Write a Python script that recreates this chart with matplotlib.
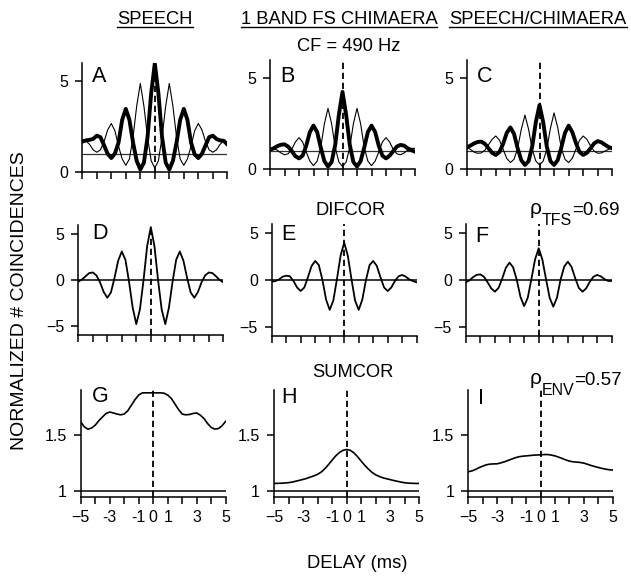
import numpy as np
import matplotlib
matplotlib.use('Agg')
import matplotlib.pyplot as plt
from matplotlib.lines import Line2D

plt.rcParams['font.family'] = ['Liberation Sans', 'DejaVu Sans']
plt.rcParams['lines.scale_dashes'] = False

# ---------------- data ----------------
delay = np.arange(-5, 5.001, 0.25)   # ms, 41 samples

# Row 1: normalized correlograms (thick = same polarity, thin = cross polarity)
speech_thick = [1.65, 1.72, 1.75, 1.80, 1.98, 1.90, 1.45, 0.98, 0.75, 1.00, 1.60,
                2.85, 3.45, 2.85, 1.60, 0.60, 0.12, 0.50, 1.90, 4.30, 5.95,
                4.30, 1.90, 0.50, 0.12, 0.60, 1.60, 2.85, 3.45, 2.85, 1.60,
                0.95, 0.75, 0.98, 1.45, 1.90, 1.98, 1.80, 1.72, 1.70, 1.50]
speech_thin = [1.75, 1.70, 1.50, 1.20, 1.07, 1.20, 1.65, 2.30, 2.65, 2.25, 1.40,
               0.70, 0.35, 0.70, 1.90, 3.60, 4.85, 3.60, 1.90, 0.60, 0.20,
               0.60, 1.90, 3.60, 4.85, 3.60, 1.90, 0.70, 0.35, 0.70, 1.40,
               2.25, 2.65, 2.30, 1.65, 1.20, 1.07, 1.20, 1.50, 1.70, 1.60]
chim_thick = [1.08, 1.15, 1.27, 1.35, 1.37, 1.25, 1.00, 0.72, 0.60, 0.75, 1.30,
              2.05, 2.40, 2.05, 1.20, 0.45, 0.15, 0.40, 1.35, 3.00, 4.25,
              3.00, 1.35, 0.40, 0.15, 0.45, 1.20, 2.05, 2.40, 2.05, 1.30,
              0.75, 0.60, 0.75, 1.00, 1.25, 1.34, 1.30, 1.15, 1.05, 0.97]
chim_thin = [1.15, 1.15, 1.05, 0.90, 0.80, 0.85, 1.10, 1.50, 1.74, 1.50, 0.95,
             0.45, 0.20, 0.45, 1.20, 2.50, 3.35, 2.50, 1.20, 0.40, 0.15,
             0.40, 1.20, 2.50, 3.35, 2.50, 1.20, 0.45, 0.20, 0.45, 0.95,
             1.50, 1.74, 1.50, 1.10, 0.85, 0.80, 0.90, 1.05, 1.15, 1.15]
cross_thick = [1.20, 1.30, 1.42, 1.50, 1.52, 1.40, 1.15, 0.90, 0.79, 0.95, 1.40,
               2.00, 2.30, 1.95, 1.15, 0.50, 0.24, 0.45, 1.25, 2.60, 3.53,
               2.60, 1.25, 0.45, 0.24, 0.50, 1.20, 2.00, 2.40, 2.05, 1.45,
               0.95, 0.79, 0.90, 1.15, 1.42, 1.55, 1.48, 1.35, 1.22, 1.15]
cross_thin = [1.20, 1.10, 0.95, 0.88, 0.90, 1.05, 1.35, 1.65, 1.83, 1.60, 1.10,
              0.60, 0.37, 0.55, 1.15, 2.20, 2.98, 2.20, 1.10, 0.45, 0.24,
              0.45, 1.10, 2.25, 3.10, 2.30, 1.15, 0.55, 0.37, 0.60, 1.10,
              1.60, 1.83, 1.65, 1.30, 1.00, 0.88, 0.90, 1.00, 1.10, 1.20]

# Row 2: DIFCOR
difcor_speech = [-0.18, 0.05, 0.40, 0.75, 0.82, 0.50, -0.25, -1.30, -1.93, -1.35, 0.25,
                 2.10, 3.10, 2.20, -0.20, -3.00, -4.80, -3.20, 0.00, 3.70, 5.75,
                 3.70, 0.00, -3.20, -4.80, -3.00, -0.20, 2.20, 3.10, 2.10, 0.25,
                 -1.35, -1.93, -1.30, -0.25, 0.50, 0.82, 0.75, 0.40, 0.00, -0.25]
difcor_chim = [-0.18, -0.12, 0.05, 0.35, 0.46, 0.40, -0.10, -0.80, -1.18, -0.80, 0.30,
               1.50, 2.04, 1.60, 0.00, -2.10, -3.20, -2.20, 0.10, 2.60, 4.00,
               2.60, 0.10, -2.20, -3.20, -2.10, 0.00, 1.60, 2.04, 1.50, 0.30,
               -0.80, -1.18, -0.80, -0.10, 0.40, 0.54, 0.35, 0.05, -0.12, -0.25]
difcor_cross = [-0.25, -0.05, 0.30, 0.55, 0.60, 0.35, -0.25, -0.90, -1.25, -0.85, 0.15,
                1.30, 1.86, 1.35, 0.00, -1.80, -2.80, -1.90, 0.10, 2.20, 3.40,
                2.20, 0.10, -1.90, -2.86, -1.90, 0.05, 1.45, 1.96, 1.40, 0.20,
                -0.85, -1.25, -0.90, -0.20, 0.35, 0.54, 0.40, 0.10, -0.10, -0.10]

# Row 3: SUMCOR
sumcor_speech = [1.620, 1.575, 1.554, 1.565, 1.590, 1.630, 1.664, 1.695, 1.708, 1.700, 1.690,
                 1.683, 1.690, 1.720, 1.770, 1.820, 1.860, 1.880, 1.880, 1.880, 1.880,
                 1.880, 1.880, 1.877, 1.860, 1.830, 1.780, 1.730, 1.690, 1.683, 1.686,
                 1.695, 1.700, 1.680, 1.650, 1.605, 1.570, 1.555, 1.560, 1.585, 1.625]
sumcor_chim = [1.068, 1.069, 1.070, 1.072, 1.075, 1.080, 1.088, 1.096, 1.104, 1.113, 1.125,
               1.136, 1.150, 1.170, 1.200, 1.237, 1.277, 1.315, 1.345, 1.365, 1.372,
               1.365, 1.342, 1.308, 1.268, 1.230, 1.196, 1.167, 1.145, 1.130, 1.118,
               1.110, 1.102, 1.094, 1.087, 1.080, 1.074, 1.071, 1.069, 1.068, 1.068]
sumcor_cross = [1.173, 1.180, 1.193, 1.210, 1.223, 1.235, 1.241, 1.243, 1.244, 1.252, 1.262,
                1.274, 1.286, 1.298, 1.307, 1.312, 1.315, 1.318, 1.321, 1.323, 1.324,
                1.327, 1.327, 1.322, 1.315, 1.304, 1.292, 1.279, 1.268, 1.262, 1.259,
                1.256, 1.250, 1.240, 1.229, 1.220, 1.211, 1.203, 1.196, 1.191, 1.188]

xticks = list(range(-5, 6))
xtick_labels = ['\u22125', '', '-3', '', '-1', '0', '1', '', '3', '', '5']
column_titles = ['SPEECH', '1 BAND FS CHIMAERA', 'SPEECH/CHIMAERA']
letters = ['A', 'B', 'C', 'D', 'E', 'F', 'G', 'H', 'I']
rho_tfs = ('TFS', '=0.69')
rho_env = ('ENV', '=0.57')

# ---------------- layout ----------------
W, H = 631, 576
fig = plt.figure(figsize=(W / 100, H / 100), dpi=100)


def add_ax(l, r, t, b):
    return fig.add_axes([l / W, 1 - b / H, (r - l) / W, (b - t) / H])


def style(ax, ylim, yticks, ylabels, show_x):
    ax.set_xlim(-5, 5)
    ax.set_ylim(*ylim)
    ax.patch.set_visible(False)
    for s in ['top', 'right']:
        ax.spines[s].set_visible(False)
    for s in ['left', 'bottom']:
        ax.spines[s].set_linewidth(1.1)
    ax.set_xticks(xticks)
    ax.set_xticklabels(xtick_labels if show_x else [''] * len(xticks))
    ax.set_yticks(yticks)
    ax.set_yticklabels(ylabels)
    ax.tick_params(direction='out', length=5, width=1.1, labelsize=11.5, pad=5)


def zero_dash(ax):
    ax.axvline(0, color='black', lw=1.3, dashes=[4.5, 2.7], zorder=5)


# Row 1
row1 = [((82.3, 227.3, 62.5, 171.7), speech_thick, speech_thin),
        ((270.0, 415.0, 60.1, 169.3), chim_thick, chim_thin),
        ((466.7, 612.3, 60.1, 169.3), cross_thick, cross_thin)]
for rect, thick, thin in row1:
    ax = add_ax(*rect)
    style(ax, (0, 6), [0, 5], ['0', '5'], False)
    ax.axhline(1, color='#333333', lw=0.9, zorder=1)
    ax.plot(delay, thin, color='black', lw=0.8, zorder=2)
    ax.plot(delay, thick, color='black', lw=2.8, zorder=3)
    zero_dash(ax)

# Row 2
row2 = [((78.3, 223.3, 224.8, 335.2), difcor_speech),
        ((271.7, 416.7, 224.0, 336.0), difcor_chim),
        ((465.7, 611.7, 224.0, 336.0), difcor_cross)]
for rect, y in row2:
    ax = add_ax(*rect)
    style(ax, (-6, 6), [-5, 0, 5], ['\u22125', '0', '5'], False)
    ax.axhline(0, color='black', lw=1.1, zorder=1)
    ax.plot(delay, y, color='black', lw=1.3, zorder=3)
    zero_dash(ax)

# Row 3
row3 = [((80.7, 225.7, 389.5, 496.6), sumcor_speech),
        ((274.0, 419.3, 389.5, 496.6), sumcor_chim),
        ((468.3, 612.7, 389.5, 496.6), sumcor_cross)]
for rect, y in row3:
    ax = add_ax(*rect)
    style(ax, (0.95, 1.91), [1, 1.5], ['1', '1.5'], True)
    ax.axhline(1, color='black', lw=1.1, zorder=1)
    ax.plot(delay, y, color='black', lw=1.2, zorder=3)
    zero_dash(ax)

# Panel letters (left x, cap-top y in pixels)
letter_pos = [(91.7, 70), (280.7, 70), (476.7, 70),
              (92.7, 226.7), (281.7, 228.3), (475.0, 230.0),
              (92.3, 390.0), (281.7, 390.7), (477.7, 391.7)]
for lab, (x, y) in zip(letters, letter_pos):
    fig.text(x / W, 1 - (y - 4) / H, lab, fontsize=15.5, ha='left', va='top')


def ftext(x, y, s, **kw):
    return fig.text(x / W, 1 - y / H, s, **kw)


# Column titles (underlined)
title_x = [155, 339, 538]
title_base = 24
tts = [ftext(x, title_base, t, fontsize=13.2, ha='center', va='baseline')
       for t, x in zip(column_titles, title_x)]

ftext(348.8, 50.7, 'CF = 490 Hz', fontsize=13.2, ha='center', va='baseline')
ftext(351.0, 215.0, 'DIFCOR', fontsize=13.2, ha='center', va='baseline')
ftext(353.0, 376.7, 'SUMCOR', fontsize=13.2, ha='center', va='baseline')
ftext(357.0, 563.0, 'DELAY (ms)', fontsize=13.2, ha='center', va='center')
ftext(20.0, 301.0, 'NORMALIZED # COINCIDENCES', fontsize=14,
      rotation=90, ha='center', va='center')

# rho annotations: rho, lowered subscript, value right after it
subs = []
for (sub, val), base in [(rho_tfs, 215.0), (rho_env, 385.0)]:
    ftext(530.0, base - 1, '\u03c1', fontsize=15, ha='left', va='baseline')
    st = ftext(541.5, base + 10, sub, fontsize=11.5, ha='left', va='baseline')
    subs.append((st, val, base))

fig.canvas.draw()
renderer = fig.canvas.get_renderer()
for st, val, base in subs:
    bb = st.get_window_extent(renderer)
    fig.text(bb.x1 / W, 1 - base / H, val, fontsize=13.5, ha='left', va='baseline')

for t in tts:
    bb = t.get_window_extent(renderer)
    yline = (H - title_base - 2.5) / H
    fig.add_artist(Line2D([bb.x0 / W, bb.x1 / W], [yline, yline],
                          transform=fig.transFigure, color='black', lw=1.0))

fig.savefig('out.png', dpi=100)
